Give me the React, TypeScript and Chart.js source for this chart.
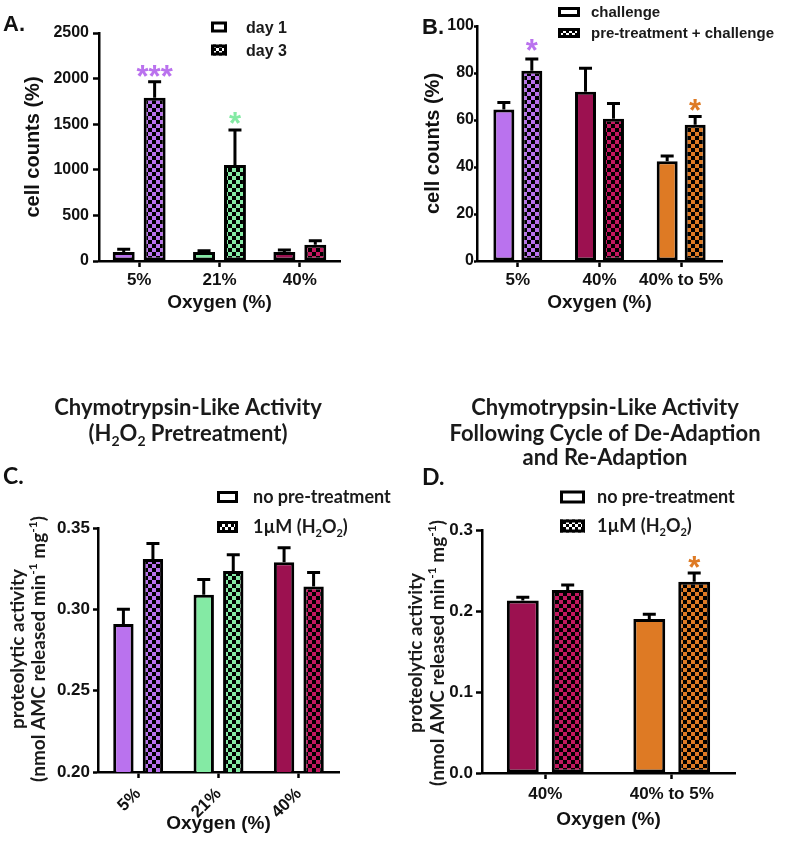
import React, { useEffect, useRef } from "react";
import { Chart, registerables } from "chart.js";

Chart.register(...registerables);

const ARIAL = '"Liberation Sans", Arial, Helvetica, sans-serif';
const CALI = 'Lato, "Open Sans", "Liberation Sans", sans-serif';

const PURPLE = "#BA72EE";
const GREEN = "#84EAA4";
const CRIMSON = "#9C1150";
const MAGENTA = "#C4175F";
const ORANGE = "#DE7A24";

// ---------- Panel A ----------
const aCategories = ["5%", "21%", "40%"];
const aLegend = ["day 1", "day 3"];
const aDay1 = [100, 100, 100];
const aDay1Err = [30, 12, 20];
const aDay3 = [1790, 1053, 178];
const aDay3Err = [176, 383, 45];
const aTicks = [0, 500, 1000, 1500, 2000, 2500];
const aSolidColors = [PURPLE, GREEN, CRIMSON];
const aCheckColors = [PURPLE, GREEN, MAGENTA];

// ---------- Panel B ----------
const bCategories = ["5%", "40%", "40% to 5%"];
const bLegend = ["challenge", "pre-treatment + challenge"];
const bChallenge = [64.5, 72, 42.5];
const bChallengeErr = [3, 10, 2.2];
const bPre = [81, 60.5, 58];
const bPreErr = [5, 6.5, 3.5];
const bTicks = [0, 20, 40, 60, 80, 100];
const bSolidColors = [PURPLE, CRIMSON, ORANGE];
const bCheckColors = [PURPLE, MAGENTA, ORANGE];

// ---------- Panel C ----------
const cTitle = ["Chymotrypsin-Like Activity", "(H_{2}O_{2} Pretreatment)"];
const cCategories = ["5%", "21%", "40%"];
const cLegend = ["no pre-treatment", "1\u00b5M (H_{2}O_{2})"];
const cNoPre = [0.291, 0.309, 0.329];
const cNoPreErr = [0.009, 0.0093, 0.0088];
const cH2O2 = [0.331, 0.3235, 0.314];
const cH2O2Err = [0.0095, 0.01, 0.0086];
const cTicks = [0.2, 0.25, 0.3, 0.35];
const cSolidColors = [PURPLE, GREEN, CRIMSON];
const cCheckColors = [PURPLE, GREEN, MAGENTA];

// ---------- Panel D ----------
const dTitle = ["Chymotrypsin-Like Activity", "Following Cycle of De-Adaption", "and Re-Adaption"];
const dCategories = ["40%", "40% to 5%"];
const dLegend = ["no pre-treatment", "1\u00b5M (H_{2}O_{2})"];
const dNoPre = [0.213, 0.19];
const dNoPreErr = [0.004, 0.006];
const dH2O2 = [0.226, 0.236];
const dH2O2Err = [0.006, 0.011];
const dTicks = [0, 0.1, 0.2, 0.3];
const dSolidColors = [CRIMSON, ORANGE];
const dCheckColors = [MAGENTA, ORANGE];

const yTitleAB = "cell counts (%)";
const yTitleCD = ["proteolytic activity", "(nmol AMC released min^{-1} mg^{-1})"];
const xTitle = "Oxygen (%)";

type Series = { label: string; values: number[]; errors: number[]; colors: string[]; checker: boolean };
type Star = { ds: number; i: number; text: string; color: string; gap: number };
type Spec = {
  box: { left: number; top: number; w: number; h: number };
  area: { left: number; right: number; top: number; bottom: number };
  cp: number;
  bp: number;
  categories: string[];
  series: Series[];
  yTicks: number[];
  yDecimals: number;
  yTick: { size: number; len: number; pad: number };
  xTick: { size: number; len: number; pad: number; rot: number };
  yTitle: { lines: string[]; x: number; cy: number; size: number; gap: number; family: string; custom: boolean };
  xTitle: { text: string; y: number; size: number };
  letter: { text: string; x: number; y: number; size: number; family: string };
  legend: { x: number; w: number; h: number; ys: number[]; textX: number; size: number; family: string };
  stars: Star[];
  title?: { lines: string[]; cx: number; ys: number[]; size: number };
};

type Seg = { t: string; m: number };
function parseRich(s: string): Seg[] {
  const out: Seg[] = [];
  const re = /([_^])\{([^}]*)\}/g;
  let last = 0;
  let mt: RegExpExecArray | null;
  while ((mt = re.exec(s))) {
    if (mt.index > last) out.push({ t: s.slice(last, mt.index), m: 0 });
    out.push({ t: mt[2], m: mt[1] === "_" ? -1 : 1 });
    last = re.lastIndex;
  }
  if (last < s.length) out.push({ t: s.slice(last), m: 0 });
  return out;
}

function drawRich(ctx: CanvasRenderingContext2D, s: string, x: number, cy: number, size: number, family: string, align: "left" | "center") {
  const segs = parseRich(s);
  const small = Math.round(size * 0.62);
  const fontOf = (m: number) => `bold ${m ? small : size}px ${family}`;
  let total = 0;
  const widths = segs.map((g) => {
    ctx.font = fontOf(g.m);
    const w = ctx.measureText(g.t).width;
    total += w;
    return w;
  });
  let px = align === "center" ? x - total / 2 : x;
  const base = cy + size * 0.35;
  ctx.textAlign = "left";
  ctx.textBaseline = "alphabetic";
  segs.forEach((g, k) => {
    ctx.font = fontOf(g.m);
    const by = g.m === -1 ? base + size * 0.22 : g.m === 1 ? base - size * 0.42 : base;
    ctx.fillText(g.t, px, by);
    px += widths[k];
  });
}

function checker(color: string, cell: number): CanvasPattern {
  const c = document.createElement("canvas");
  c.width = cell * 2;
  c.height = cell * 2;
  const x = c.getContext("2d")!;
  x.fillStyle = "#000";
  x.fillRect(0, 0, cell * 2, cell * 2);
  x.fillStyle = color;
  x.fillRect(0, 0, cell, cell);
  x.fillRect(cell, cell, cell, cell);
  return x.createPattern(c, "repeat")!;
}

function makeDecor(spec: Spec) {
  return {
    id: "decor",
    afterDatasetsDraw(chart: any) {
      const ctx: CanvasRenderingContext2D = chart.ctx;
      const y = chart.scales.y;
      ctx.save();
      spec.series.forEach((s, ds) => {
        const meta = chart.getDatasetMeta(ds);
        meta.data.forEach((el: any, i: number) => {
          const top = y.getPixelForValue(s.values[i] + s.errors[i]);
          const cap = 13;
          ctx.strokeStyle = "#000";
          ctx.lineWidth = 3;
          ctx.beginPath();
          ctx.moveTo(el.x, el.y);
          ctx.lineTo(el.x, top);
          ctx.moveTo(el.x - cap / 2, top);
          ctx.lineTo(el.x + cap / 2, top);
          ctx.stroke();
        });
      });
      spec.stars.forEach((st) => {
        const el = chart.getDatasetMeta(st.ds).data[st.i];
        const s = spec.series[st.ds];
        const top = y.getPixelForValue(s.values[st.i] + s.errors[st.i]);
        ctx.font = `bold 31px ${ARIAL}`;
        ctx.textAlign = "center";
        ctx.textBaseline = "alphabetic";
        ctx.fillStyle = st.color;
        const m = ctx.measureText(st.text);
        const cy = top - st.gap;
        const base = cy + (m.actualBoundingBoxAscent - m.actualBoundingBoxDescent) / 2;
        ctx.fillText(st.text, el.x, base);
      });
      ctx.restore();
    },
    afterDraw(chart: any) {
      const ctx: CanvasRenderingContext2D = chart.ctx;
      ctx.save();
      ctx.fillStyle = "#111";
      ctx.font = `bold ${spec.letter.size}px ${spec.letter.family}`;
      ctx.textAlign = "left";
      ctx.textBaseline = "middle";
      ctx.fillText(spec.letter.text, spec.letter.x, spec.letter.y);
      if (spec.title) {
        const t = spec.title;
        ctx.fillStyle = "#1a1a1a";
        t.lines.forEach((ln, k) => drawRich(ctx, ln, t.cx, t.ys[k], t.size, CALI, "center"));
      }
      if (spec.yTitle.custom) {
        const yt = spec.yTitle;
        ctx.fillStyle = "#1a1a1a";
        yt.lines.forEach((ln, k) => {
          ctx.save();
          ctx.translate(yt.x + k * yt.gap, yt.cy);
          ctx.rotate(-Math.PI / 2);
          drawRich(ctx, ln, 0, 0, yt.size, yt.family, "center");
          ctx.restore();
        });
      }
      const lg = spec.legend;
      spec.series.forEach((s, k) => {
        const bx = lg.x;
        const by = lg.ys[k] - lg.h / 2;
        ctx.fillStyle = s.checker ? checker("#fff", 3) : "#fff";
        ctx.fillRect(bx, by, lg.w, lg.h);
        ctx.strokeStyle = "#000";
        ctx.lineWidth = 3;
        ctx.strokeRect(bx + 1.5, by + 1.5, lg.w - 3, lg.h - 3);
        ctx.fillStyle = "#1a1a1a";
        drawRich(ctx, s.label, lg.textX, lg.ys[k], lg.size, lg.family, "left");
      });
      ctx.restore();
    },
  };
}

function buildConfig(spec: Spec): any {
  const { box, area } = spec;
  const datasets = spec.series.map((s) => ({
    label: s.label,
    data: s.values,
    backgroundColor: s.checker ? s.colors.map((c) => checker(c, 4)) : s.colors,
    borderColor: "#000",
    borderWidth: 3,
    borderSkipped: false,
    categoryPercentage: spec.cp,
    barPercentage: spec.bp,
  }));
  const xLineH = spec.xTitle.size * 1.2;
  const yLineH = spec.yTitle.size * 1.2;
  return {
    type: "bar",
    data: { labels: spec.categories, datasets },
    options: {
      animation: false,
      responsive: false,
      devicePixelRatio: 1,
      layout: { padding: { left: 0, top: area.top, right: box.w - area.right, bottom: 0 } },
      plugins: { legend: { display: false }, tooltip: { enabled: false }, title: { display: false } },
      scales: {
        x: {
          type: "category",
          offset: true,
          grid: {
            display: true,
            drawOnChartArea: false,
            drawTicks: true,
            tickLength: spec.xTick.len,
            tickWidth: 2.5,
            tickColor: "#000",
            offset: false,
          },
          border: { display: true, color: "#000", width: 2.5 },
          ticks: {
            color: "#111",
            font: { family: ARIAL, size: spec.xTick.size, weight: "bold" },
            padding: spec.xTick.pad,
            minRotation: spec.xTick.rot,
            maxRotation: spec.xTick.rot,
            autoSkip: false,
          },
          title: {
            display: true,
            text: spec.xTitle.text,
            color: "#111",
            font: { family: ARIAL, size: spec.xTitle.size, weight: "bold", lineHeight: 1.2 },
            padding: { top: 0, bottom: box.h - spec.xTitle.y - xLineH / 2 },
          },
          afterFit: (s: any) => {
            s.height = box.h - area.bottom;
          },
        },
        y: {
          type: "linear",
          min: spec.yTicks[0],
          max: spec.yTicks[spec.yTicks.length - 1],
          afterBuildTicks: (s: any) => {
            s.ticks = spec.yTicks.map((v) => ({ value: v }));
          },
          grid: {
            display: true,
            drawOnChartArea: false,
            drawTicks: true,
            tickLength: spec.yTick.len,
            tickWidth: 2.5,
            tickColor: "#000",
          },
          border: { display: true, color: "#000", width: 2.5 },
          ticks: {
            color: "#111",
            font: { family: ARIAL, size: spec.yTick.size, weight: "bold" },
            padding: spec.yTick.pad,
            callback: (v: any) => Number(v).toFixed(spec.yDecimals),
          },
          title: {
            display: !spec.yTitle.custom,
            text: spec.yTitle.lines[0],
            color: "#111",
            font: { family: ARIAL, size: spec.yTitle.size, weight: "bold", lineHeight: 1.2 },
            padding: { top: spec.yTitle.x - yLineH / 2, bottom: 0 },
          },
          afterFit: (s: any) => {
            s.width = area.left;
          },
        },
      },
    },
    plugins: [makeDecor(spec)],
  };
}

const specA: Spec = {
  box: { left: 0, top: 0, w: 395, h: 320 },
  area: { left: 99, right: 340, top: 33, bottom: 261 },
  cp: 0.77,
  bp: 0.71,
  categories: aCategories,
  series: [
    { label: aLegend[0], values: aDay1, errors: aDay1Err, colors: aSolidColors, checker: false },
    { label: aLegend[1], values: aDay3, errors: aDay3Err, colors: aCheckColors, checker: true },
  ],
  yTicks: aTicks,
  yDecimals: 0,
  yTick: { size: 16, len: 6, pad: 4 },
  xTick: { size: 17, len: 6, pad: 3, rot: 0 },
  yTitle: { lines: [yTitleAB], x: 33, cy: 147, size: 20, gap: 0, family: ARIAL, custom: false },
  xTitle: { text: xTitle, y: 303, size: 19 },
  letter: { text: "A.", x: 3, y: 25, size: 22, family: ARIAL },
  legend: { x: 211, w: 16, h: 11, ys: [27, 50], textX: 246, size: 16, family: ARIAL },
  stars: [
    { ds: 1, i: 0, text: "***", color: PURPLE, gap: 11 },
    { ds: 1, i: 1, text: "*", color: GREEN, gap: 12 },
  ],
};

const specB: Spec = {
  box: { left: 395, top: 0, w: 394, h: 320 },
  area: { left: 82, right: 327, top: 26, bottom: 261 },
  cp: 0.685,
  bp: 0.75,
  categories: bCategories,
  series: [
    { label: bLegend[0], values: bChallenge, errors: bChallengeErr, colors: bSolidColors, checker: false },
    { label: bLegend[1], values: bPre, errors: bPreErr, colors: bCheckColors, checker: true },
  ],
  yTicks: bTicks,
  yDecimals: 0,
  yTick: { size: 16, len: 3, pad: 0 },
  xTick: { size: 17, len: 6, pad: 3, rot: 0 },
  yTitle: { lines: [yTitleAB], x: 38, cy: 143, size: 20, gap: 0, family: ARIAL, custom: false },
  xTitle: { text: xTitle, y: 303, size: 19 },
  letter: { text: "B.", x: 27, y: 28, size: 22, family: ARIAL },
  legend: { x: 163, w: 22, h: 10, ys: [12, 33], textX: 196, size: 15, family: ARIAL },
  stars: [
    { ds: 1, i: 0, text: "*", color: PURPLE, gap: 14 },
    { ds: 1, i: 2, text: "*", color: ORANGE, gap: 11 },
  ],
};

const specC: Spec = {
  box: { left: 0, top: 380, w: 395, h: 474 },
  area: { left: 98, right: 339, top: 148, bottom: 392 },
  cp: 0.735,
  bp: 0.69,
  categories: cCategories,
  series: [
    { label: cLegend[0], values: cNoPre, errors: cNoPreErr, colors: cSolidColors, checker: false },
    { label: cLegend[1], values: cH2O2, errors: cH2O2Err, colors: cCheckColors, checker: true },
  ],
  yTicks: cTicks,
  yDecimals: 2,
  yTick: { size: 17, len: 5, pad: 3 },
  xTick: { size: 17, len: 6, pad: 6, rot: 45 },
  yTitle: { lines: yTitleCD, x: 17, cy: 269, size: 19, gap: 21, family: CALI, custom: true },
  xTitle: { text: xTitle, y: 444, size: 19 },
  letter: { text: "C.", x: 3, y: 97, size: 23, family: CALI },
  legend: { x: 217, w: 21, h: 12, ys: [117, 147], textX: 253, size: 18, family: CALI },
  stars: [],
  title: { lines: cTitle, cx: 188, ys: [27, 53], size: 22 },
};

const specD: Spec = {
  box: { left: 395, top: 380, w: 394, h: 474 },
  area: { left: 87, right: 340, top: 150, bottom: 393 },
  cp: 0.71,
  bp: 0.71,
  categories: dCategories,
  series: [
    { label: dLegend[0], values: dNoPre, errors: dNoPreErr, colors: dSolidColors, checker: false },
    { label: dLegend[1], values: dH2O2, errors: dH2O2Err, colors: dCheckColors, checker: true },
  ],
  yTicks: dTicks,
  yDecimals: 1,
  yTick: { size: 17, len: 6, pad: 3 },
  xTick: { size: 17, len: 6, pad: 5, rot: 0 },
  yTitle: { lines: yTitleCD, x: 20, cy: 273, size: 19, gap: 22, family: CALI, custom: true },
  xTitle: { text: xTitle, y: 440, size: 19 },
  letter: { text: "D.", x: 27, y: 98, size: 23, family: CALI },
  legend: { x: 165, w: 25, h: 13, ys: [117, 146], textX: 202, size: 18, family: CALI },
  stars: [{ ds: 1, i: 1, text: "*", color: ORANGE, gap: 11 }],
  title: { lines: dTitle, cx: 210, ys: [27, 53, 77], size: 22 },
};

function Panel({ spec }: { spec: Spec }) {
  const ref = useRef<HTMLCanvasElement>(null);
  useEffect(() => {
    const chart = new Chart(ref.current!, buildConfig(spec));
    return () => chart.destroy();
  }, [spec]);
  return (
    <canvas
      ref={ref}
      width={spec.box.w}
      height={spec.box.h}
      style={{ position: "absolute", left: spec.box.left, top: spec.box.top, width: spec.box.w, height: spec.box.h }}
    />
  );
}

export default function App() {
  return (
    <div style={{ position: "absolute", left: 0, top: 0, width: 789, height: 854, background: "#fff", overflow: "hidden" }}>
      <Panel spec={specA} />
      <Panel spec={specB} />
      <Panel spec={specC} />
      <Panel spec={specD} />
    </div>
  );
}
